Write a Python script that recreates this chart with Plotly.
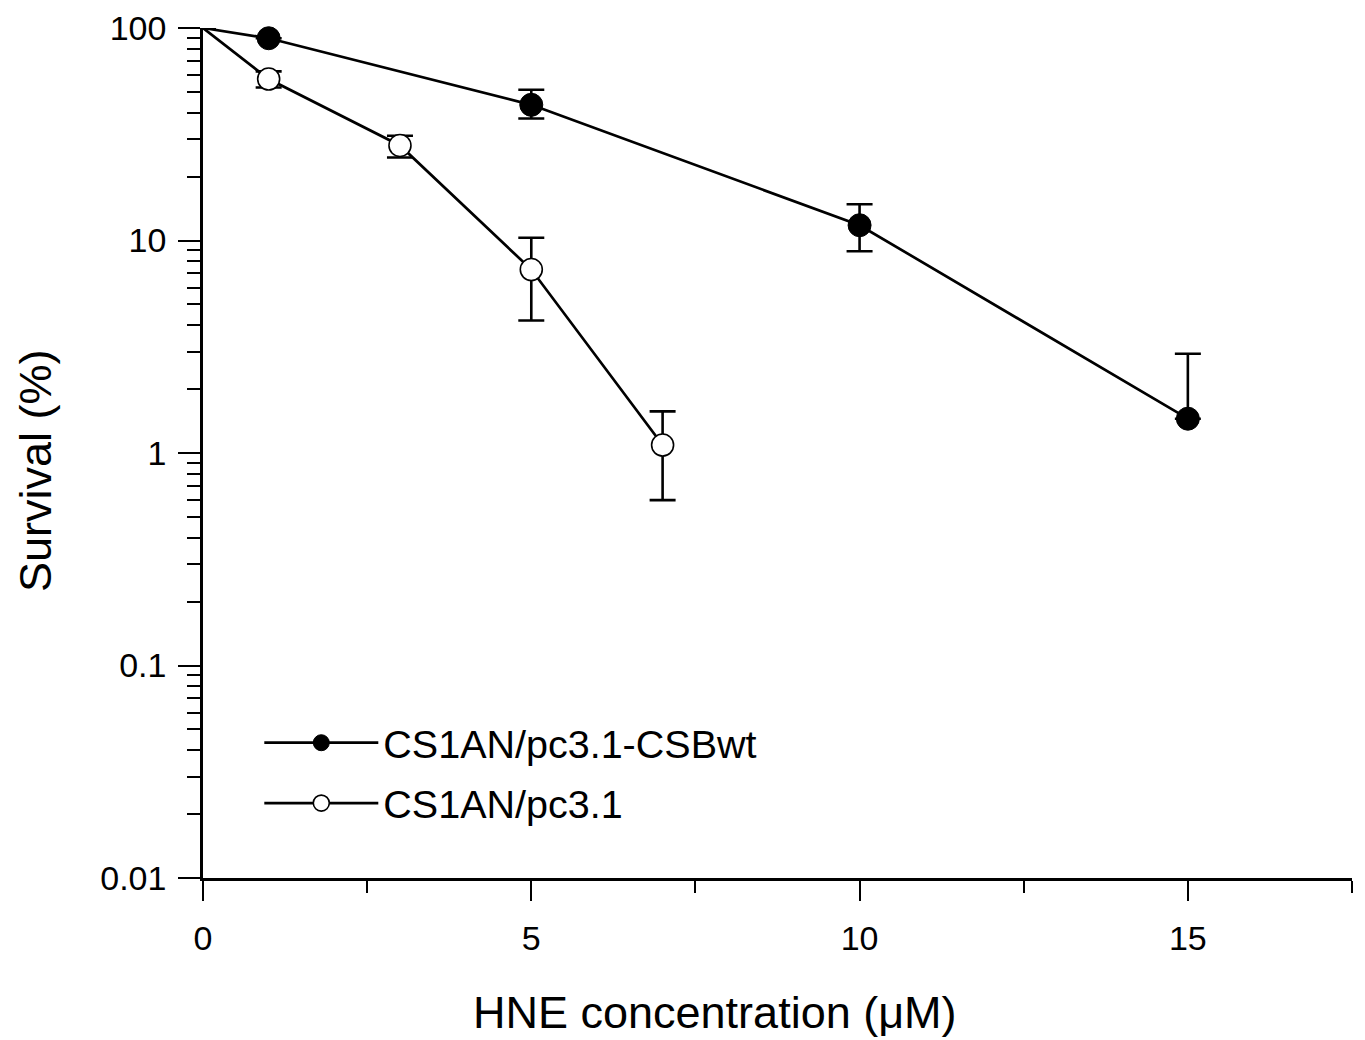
import plotly.graph_objects as go

# Data
conc_wt = [0, 1, 5, 10, 15]
surv_wt = [100, 89.5, 43.5, 11.8, 1.45]
err_wt_plus = [0, 0, 7.7, 3.0, 1.48]
err_wt_minus = [0, 0, 6.0, 2.9, 0]

conc_pc = [0, 1, 3, 5, 7]
surv_pc = [100, 57.5, 28.0, 7.3, 1.09]
err_pc_plus = [0, 5.0, 3.1, 3.0, 0.48]
err_pc_minus = [0, 5.0, 3.4, 3.1, 0.49]

name_wt = "CS1AN/pc3.1-CSBwt"
name_pc = "CS1AN/pc3.1"

x_tickvals = [0, 5, 10, 15]
y_tickvals = [0.01, 0.1, 1, 10, 100]
y_ticktext = ["0.01", "0.1", "1", "10", "100"]

FONT = "Liberation Sans, Arial, sans-serif"

fig = go.Figure()

msize_wt = [0] + [23] * (len(conc_wt) - 1)
msize_pc = [0] + [22] * (len(conc_pc) - 1)

fig.add_trace(go.Scatter(
    x=conc_wt, y=surv_wt, mode="lines+markers", name=name_wt,
    legendgroup="a",
    line=dict(color="black", width=2.7),
    marker=dict(symbol="circle", size=msize_wt, color="black", opacity=1,
                line=dict(color="black", width=1)),
    error_y=dict(type="data", symmetric=False, array=err_wt_plus,
                 arrayminus=err_wt_minus, color="black", thickness=2.6, width=13),
    cliponaxis=False,
))
fig.add_trace(go.Scatter(
    x=conc_pc, y=surv_pc, mode="lines+markers", name=name_pc,
    legendgroup="b",
    line=dict(color="black", width=2.7),
    marker=dict(symbol="circle", size=msize_pc, color="white", opacity=1,
                line=dict(color="black", width=1.6)),
    error_y=dict(type="data", symmetric=False, array=err_pc_plus,
                 arrayminus=err_pc_minus, color="black", thickness=2.6, width=13),
    cliponaxis=False,
))

fig.update_layout(
    width=1365, height=1040,
    margin=dict(l=203, r=13, t=28, b=162, autoexpand=False),
    paper_bgcolor="white", plot_bgcolor="white",
    font=dict(family=FONT, color="black", size=34),
    showlegend=True,
    legend=dict(x=0.049, y=0.197, xanchor="left", yanchor="top",
                bgcolor="rgba(0,0,0,0)", font=dict(size=39.5, family=FONT),
                itemwidth=114, tracegroupgap=6, traceorder="grouped"),
    xaxis=dict(
        range=[0, 17.5], showline=True, linecolor="black", linewidth=2.5,
        showgrid=False, zeroline=False, mirror=False, automargin=False,
        tickmode="array", tickvals=x_tickvals, ticktext=[str(v) for v in x_tickvals],
        ticks="outside", ticklen=20, tickwidth=2, tickcolor="black",
        ticklabelstandoff=8,
        minor=dict(tickmode="array", tickvals=[2.5, 7.5, 12.5, 17.5],
                   ticks="outside", ticklen=12, tickwidth=2, tickcolor="black"),
        tickfont=dict(size=34),
    ),
    yaxis=dict(
        type="log", range=[-2, 2], showline=True, linecolor="black", linewidth=2.5,
        showgrid=False, zeroline=False, mirror=False, automargin=False,
        tickmode="array", tickvals=y_tickvals, ticktext=y_ticktext,
        ticks="outside", ticklen=22, tickwidth=2, tickcolor="black",
        ticklabelstandoff=5,
        minor=dict(ticks="outside", ticklen=13, tickwidth=2, tickcolor="black",
                   dtick="D1", showgrid=False),
        tickfont=dict(size=34),
    ),
    annotations=[
        dict(text="HNE concentration (\u03bcM)", xref="paper", yref="paper",
             x=(715 - 203) / 1149, y=-(1013 - 878) / 850, xanchor="center",
             yanchor="middle", showarrow=False, font=dict(size=45, family=FONT)),
        dict(text="Survival (%)", xref="paper", yref="paper",
             x=-(203 - 35) / 1149, y=(878 - 471) / 850, xanchor="center",
             yanchor="middle", textangle=-90, showarrow=False,
             font=dict(size=45, family=FONT)),
    ],
)

fig.write_html("out.html", config={"displayModeBar": False},
               post_script="document.body.style.margin='0px';")
